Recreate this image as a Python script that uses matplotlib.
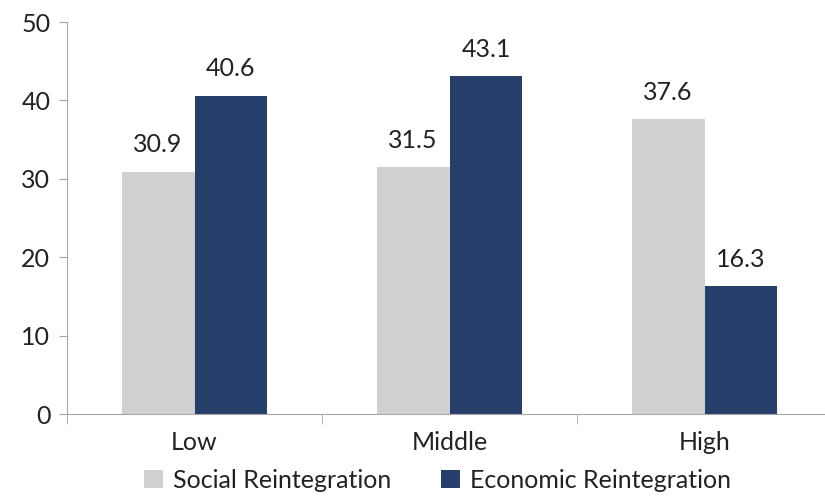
import matplotlib
matplotlib.use("Agg")
import matplotlib.pyplot as plt
import numpy as np

categories = ["Low", "Middle", "High"]
social = [30.9, 31.5, 37.6]
economic = [40.6, 43.1, 16.3]
series_names = ["Social Reintegration", "Economic Reintegration"]

plt.rcParams['font.family'] = ['Lato', 'DejaVu Sans']
GRAY = "#D0D0D0"
NAVY = "#253F6A"
AXC = "#A6A6A6"
TXT = "#222222"

fig = plt.figure(figsize=(8.25, 4.97), dpi=100)
ax = fig.add_axes([67/825, 83/497, 765/825, 392/497])

x = np.arange(len(categories))
w = 0.286
b1 = ax.bar(x - w/2, social, w, color=GRAY, label=series_names[0])
b2 = ax.bar(x + w/2, economic, w, color=NAVY, label=series_names[1])

for bars in (b1, b2):
    for r in bars:
        ax.annotate(f"{r.get_height():.1f}", (r.get_x() + r.get_width()/2, r.get_height()),
                    xytext=(0, 11), textcoords="offset points", ha="center", va="bottom",
                    fontsize=18, color=TXT)

ax.set_xlim(-0.5, 2.5)
ax.set_ylim(0, 50)
ax.set_yticks(range(0, 51, 10))
ax.set_xticks(x)
ax.set_xticklabels(categories)
ax.set_xticks([-0.5, 0.5, 1.5, 2.5], minor=True)
ax.tick_params(axis="x", which="major", length=0, pad=12, labelsize=18, labelcolor=TXT)
ax.tick_params(axis="x", which="minor", length=7, color=AXC, direction="out")
ax.tick_params(axis="y", length=6, color=AXC, labelsize=18, labelcolor=TXT, pad=6)
for s in ("top", "right"):
    ax.spines[s].set_visible(False)
for s in ("left", "bottom"):
    ax.spines[s].set_color(AXC)
ax.spines["bottom"].set_clip_on(False)

fig.legend(loc="lower center", bbox_to_anchor=(0.53, -0.035), ncol=2, frameon=False,
           fontsize=18, handlelength=0.75, handleheight=0.75, handletextpad=0.4,
           columnspacing=2.0, labelcolor=TXT)

fig.savefig("out.png", dpi=100)
